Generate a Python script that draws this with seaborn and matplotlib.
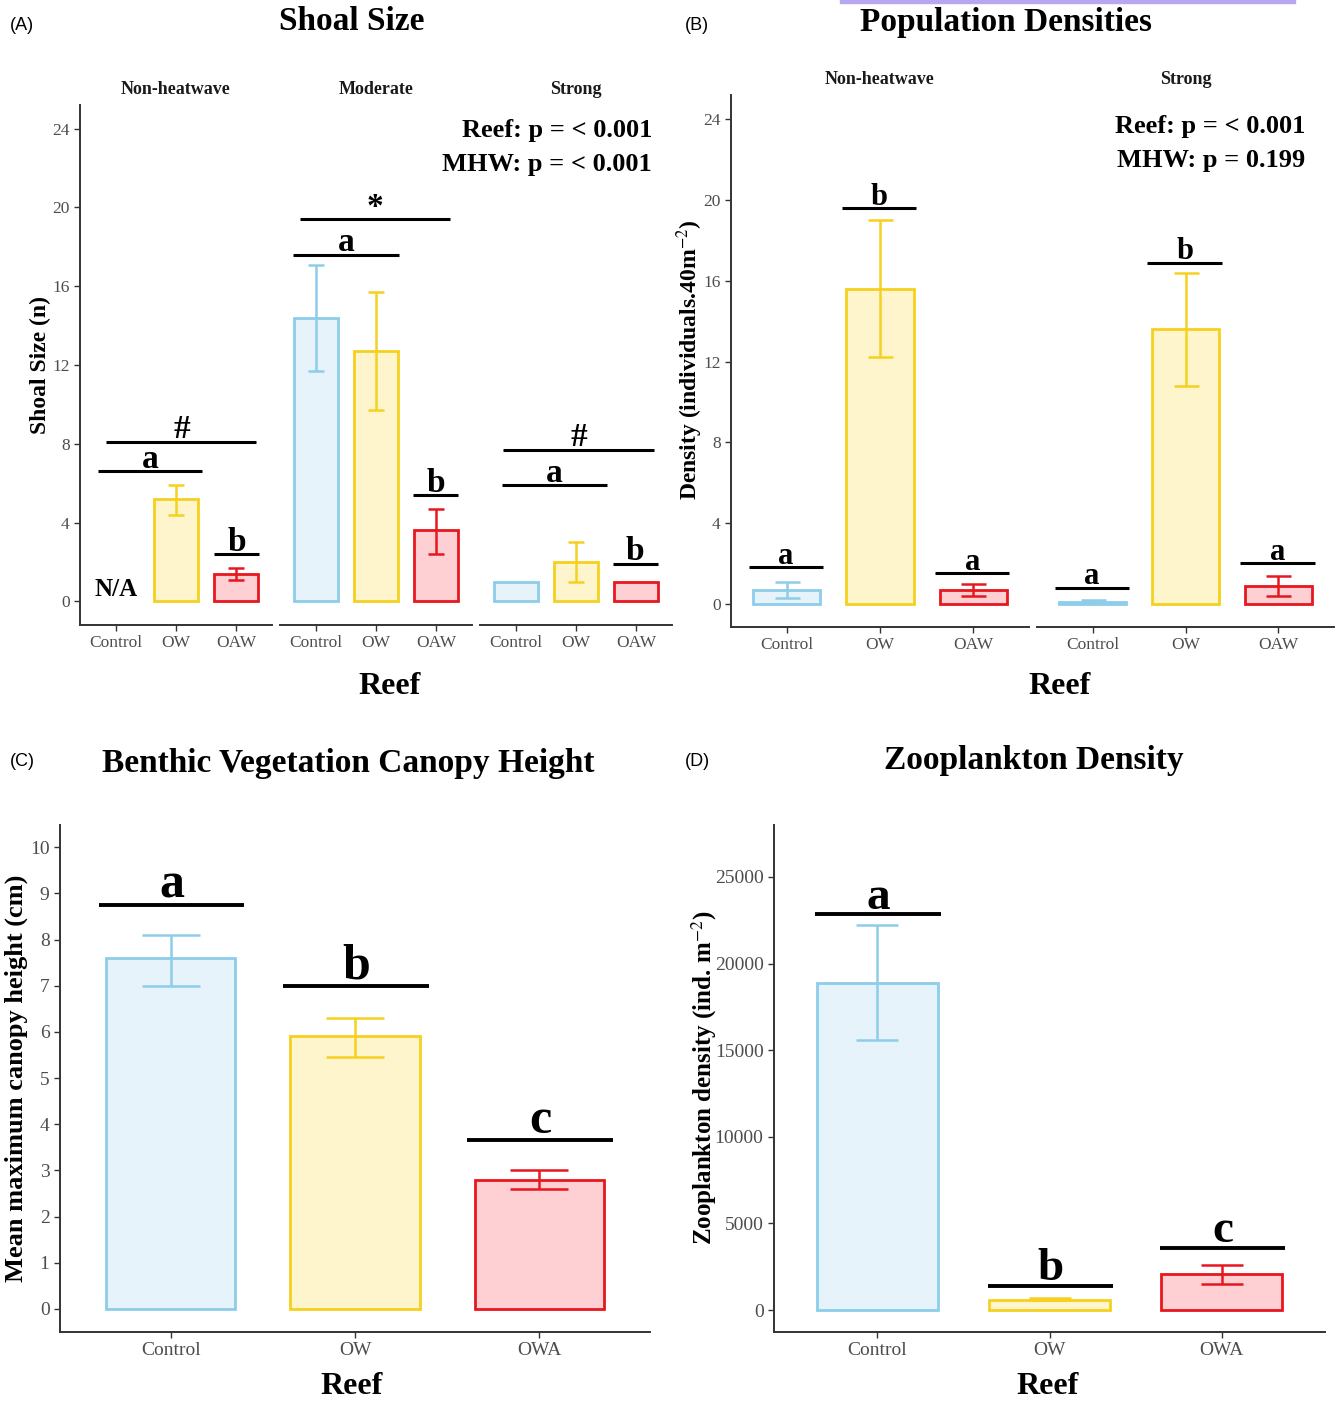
import numpy as np
import pandas as pd
import matplotlib
matplotlib.use("Agg")
import matplotlib.pyplot as plt
from matplotlib.patches import Rectangle
import seaborn as sns

# ------------------------------------------
# Data
# ------------------------------------------
reef_a = ['Control', 'OW', 'OAW']
mhw_a = ['Non-heatwave', 'Moderate', 'Strong']
shoal_mean = [[np.nan, 5.2, 1.4], [14.4, 12.7, 3.6], [1.0, 2.0, 1.0]]
shoal_lo = [[np.nan, 4.4, 1.1], [11.7, 9.7, 2.4], [1.0, 1.0, 1.0]]
shoal_hi = [[np.nan, 5.9, 1.7], [17.1, 15.7, 4.7], [1.0, 3.0, 1.0]]

mhw_b = ['Non-heatwave', 'Strong']
dens_mean = [[0.7, 15.6, 0.7], [0.1, 13.6, 0.9]]
dens_lo = [[0.3, 12.2, 0.4], [0.05, 10.8, 0.4]]
dens_hi = [[1.1, 19.0, 1.0], [0.2, 16.4, 1.4]]

reef_c = ['Control', 'OW', 'OWA']
canopy_mean = [7.6, 5.9, 2.8]
canopy_lo = [7.0, 5.45, 2.6]
canopy_hi = [8.1, 6.3, 3.0]

zoo_mean = [18900, 600, 2050]
zoo_lo = [15600, 550, 1500]
zoo_hi = [22200, 700, 2600]

# significance annotations: (label, y, x_from, x_to)
shoal_sig = [
    [('#', 8.1, -0.16, 2.34), ('a', 6.6, -0.30, 1.44), ('b', 2.4, 1.64, 2.38)],
    [('*', 19.4, -0.26, 2.23), ('a', 17.6, -0.38, 1.38), ('b', 5.4, 1.62, 2.36)],
    [('#', 7.7, -0.21, 2.30), ('a', 5.9, -0.23, 1.51), ('b', 1.9, 1.61, 2.36)],
]
dens_sig = [['a', 'b', 'a'], ['a', 'b', 'a']]
dens_sig_y = [[1.8, 19.6, 1.5], [0.8, 16.9, 2.0]]
canopy_sig = ['a', 'b', 'c']
canopy_sig_y = [8.75, 7.0, 3.65]
zoo_sig = ['a', 'b', 'c']
zoo_sig_y = [22850, 1400, 3600]

# ------------------------------------------
# Style
# ------------------------------------------
sns.set_style("white")
plt.rcParams['font.family'] = ['Liberation Serif', 'DejaVu Serif']
plt.rcParams['mathtext.fontset'] = 'stix'
plt.rcParams['text.color'] = 'black'
plt.rcParams['axes.labelcolor'] = 'black'

edge = {'Control': '#8DCDEA', 'OW': '#F6D01E', 'OAW': '#E8161E', 'OWA': '#E8161E'}
fill = {'Control': '#E6F3FA', 'OW': '#FFF5CD', 'OAW': '#FFD0D3', 'OWA': '#FFD0D3'}
AXC = '#333333'
TICKC = '#4D4D4D'

W, H = 1338, 1401
fig = plt.figure(figsize=(W / 100, H / 100), dpi=100)


def px_axes(x0, y0, x1, y1):
    return fig.add_axes([x0 / W, 1 - y1 / H, (x1 - x0) / W, (y1 - y0) / H])


def ftext(x, y, s, **kw):
    fig.text(x / W, 1 - y / H, s, **kw)


def bar_panel(ax, levels, means, lo, hi, capsize, bar_w=0.72, lw=2.0, elw=1.8):
    df = pd.DataFrame({'Reef': levels, 'value': means})
    sns.barplot(data=df, x='Reef', y='value', hue='Reef', order=levels,
                hue_order=levels, palette=[fill[l] for l in levels],
                errorbar=None, width=bar_w, linewidth=lw, legend=False,
                saturation=1, ax=ax)
    for p in ax.patches:
        idx = int(round(p.get_x() + p.get_width() / 2))
        p.set_edgecolor(edge[levels[idx]])
        p.set_facecolor(fill[levels[idx]])
    for i, lev in enumerate(levels):
        m = means[i]
        if np.isnan(m) or hi[i] - lo[i] <= 0:
            continue
        ax.errorbar(i, m, yerr=[[m - lo[i]], [hi[i] - m]], color=edge[lev],
                    capsize=capsize, elinewidth=elw, capthick=elw, zorder=5)
    ax.set_xlim(-0.6, 2.6)
    ax.set_xlabel('')
    ax.set_ylabel('')
    for s in ['top', 'right']:
        ax.spines[s].set_visible(False)
    for s in ['left', 'bottom']:
        ax.spines[s].set_color(AXC)
        ax.spines[s].set_linewidth(1.4)
    ax.tick_params(axis='both', direction='out', length=4, width=1,
                   color=AXC, labelcolor=TICKC, left=True, bottom=True)


def sig_line(ax, label, y, x0, x1, size, off=2.5, lw=2.2):
    ax.plot([x0, x1], [y, y], color='black', lw=lw, solid_capstyle='butt', zorder=6)
    ax.annotate(label, xy=((x0 + x1) / 2, y), xytext=(0, off),
                textcoords='offset points', ha='center', va='baseline',
                fontsize=size, fontweight='bold', color='black')


# ==========================================
# (A) Shoal Size
# ==========================================
facets_a = [(80, 272), (280, 472), (480, 672)]
for k, (x0, x1) in enumerate(facets_a):
    ax = px_axes(x0, 105, x1, 625)
    bar_panel(ax, reef_a, shoal_mean[k], shoal_lo[k], shoal_hi[k], capsize=6)
    ax.set_ylim(-1.2, 25.2)
    ax.set_yticks(range(0, 25, 4))
    ax.tick_params(labelsize=12.5)
    if k > 0:
        ax.spines['left'].set_visible(False)
        ax.tick_params(axis='y', left=False, labelleft=False)
    for lab, y, a, b in shoal_sig[k]:
        sig_line(ax, lab, y, a, b, 24 if lab not in '#*' else 24)
    ftext((x0 + x1) / 2, 90, mhw_a[k], ha='center', va='center',
          fontsize=13, fontweight='bold', color='#1a1a1a')
    if k == 0:
        ax.text(0, 0.0, 'N/A', ha='center', va='bottom', fontsize=18,
                fontweight='bold')

ftext(652, 130, 'Reef: p = < 0.001', ha='right', va='center', fontsize=19, fontweight='bold')
ftext(652, 164, 'MHW: p = < 0.001', ha='right', va='center', fontsize=19, fontweight='bold')
ftext(352, 22, 'Shoal Size', ha='center', va='center', fontsize=24, fontweight='bold')
ftext(10, 25, '(A)', ha='left', va='center', fontsize=13, family='Liberation Sans')
ftext(40, 365, 'Shoal Size (n)', ha='center', va='center', rotation=90,
      fontsize=17, fontweight='bold')
ftext(390, 686, 'Reef', ha='center', va='center', fontsize=23, fontweight='bold')

# ==========================================
# (B) Population Densities
# ==========================================
facets_b = [(731, 1029), (1037, 1334)]
for k, (x0, x1) in enumerate(facets_b):
    ax = px_axes(x0, 95, x1, 627)
    bar_panel(ax, reef_a, dens_mean[k], dens_lo[k], dens_hi[k], capsize=9)
    ax.set_ylim(-1.15, 25.2)
    ax.set_yticks(range(0, 25, 4))
    ax.tick_params(labelsize=12.5)
    if k > 0:
        ax.spines['left'].set_visible(False)
        ax.tick_params(axis='y', left=False, labelleft=False)
    for i, lab in enumerate(dens_sig[k]):
        sig_line(ax, lab, dens_sig_y[k][i], i - 0.41, i + 0.39, 22)
    ftext((x0 + x1) / 2, 80, mhw_b[k], ha='center', va='center',
          fontsize=13, fontweight='bold', color='#1a1a1a')

ftext(1305, 127, 'Reef: p = < 0.001', ha='right', va='center', fontsize=19, fontweight='bold')
ftext(1305, 161, 'MHW: p = 0.199', ha='right', va='center', fontsize=19, fontweight='bold')
ftext(1006, 22, 'Population Densities', ha='center', va='center', fontsize=24, fontweight='bold')
ftext(685, 25, '(B)', ha='left', va='center', fontsize=13, family='Liberation Sans')
ftext(690, 360, r'Density (individuals.40m$^{-2}$)', ha='center', va='center',
      rotation=90, fontsize=17, fontweight='bold')
ftext(1060, 686, 'Reef', ha='center', va='center', fontsize=23, fontweight='bold')

# ==========================================
# (C) Benthic Vegetation Canopy Height
# ==========================================
ax = px_axes(60, 825, 650, 1332)
bar_panel(ax, reef_c, canopy_mean, canopy_lo, canopy_hi, capsize=21, bar_w=0.70)
ax.set_ylim(-0.5, 10.48)
ax.set_yticks(range(0, 11))
ax.tick_params(labelsize=14)
for i, lab in enumerate(canopy_sig):
    sig_line(ax, lab, canopy_sig_y[i], i - 0.39, i + 0.40, 36, off=5, lw=2.8)
ftext(348, 763, 'Benthic Vegetation Canopy Height', ha='center', va='center',
      fontsize=24, fontweight='bold')
ftext(10, 762, '(C)', ha='left', va='center', fontsize=13, family='Liberation Sans')
ftext(16, 1078, 'Mean maximum canopy height (cm)', ha='center', va='center',
      rotation=90, fontsize=19, fontweight='bold')
ftext(352, 1386, 'Reef', ha='center', va='center', fontsize=23, fontweight='bold')

# ==========================================
# (D) Zooplankton Density
# ==========================================
ax = px_axes(774, 825, 1325, 1332)
bar_panel(ax, reef_c, zoo_mean, zoo_lo, zoo_hi, capsize=15, bar_w=0.70)
ax.set_ylim(-1270, 28000)
ax.set_yticks(range(0, 25001, 5000))
ax.tick_params(labelsize=14)
for i, lab in enumerate(zoo_sig):
    sig_line(ax, lab, zoo_sig_y[i], i - 0.36, i + 0.37, 34, off=4, lw=2.8)
ftext(1034, 760, 'Zooplankton Density', ha='center', va='center',
      fontsize=24, fontweight='bold')
ftext(685, 762, '(D)', ha='left', va='center', fontsize=13, family='Liberation Sans')
ftext(704, 1078, r'Zooplankton density (ind. m$^{-2}$)', ha='center', va='center',
      rotation=90, fontsize=18, fontweight='bold')
ftext(1048, 1386, 'Reef', ha='center', va='center', fontsize=23, fontweight='bold')

# thin lavender strip at the top of the original image
fig.patches.append(Rectangle((840 / W, 1 - 3 / H), (1295 - 840) / W, 3 / H,
                             transform=fig.transFigure, color='#B9A6F0'))

fig.savefig('out.png', dpi=100)
